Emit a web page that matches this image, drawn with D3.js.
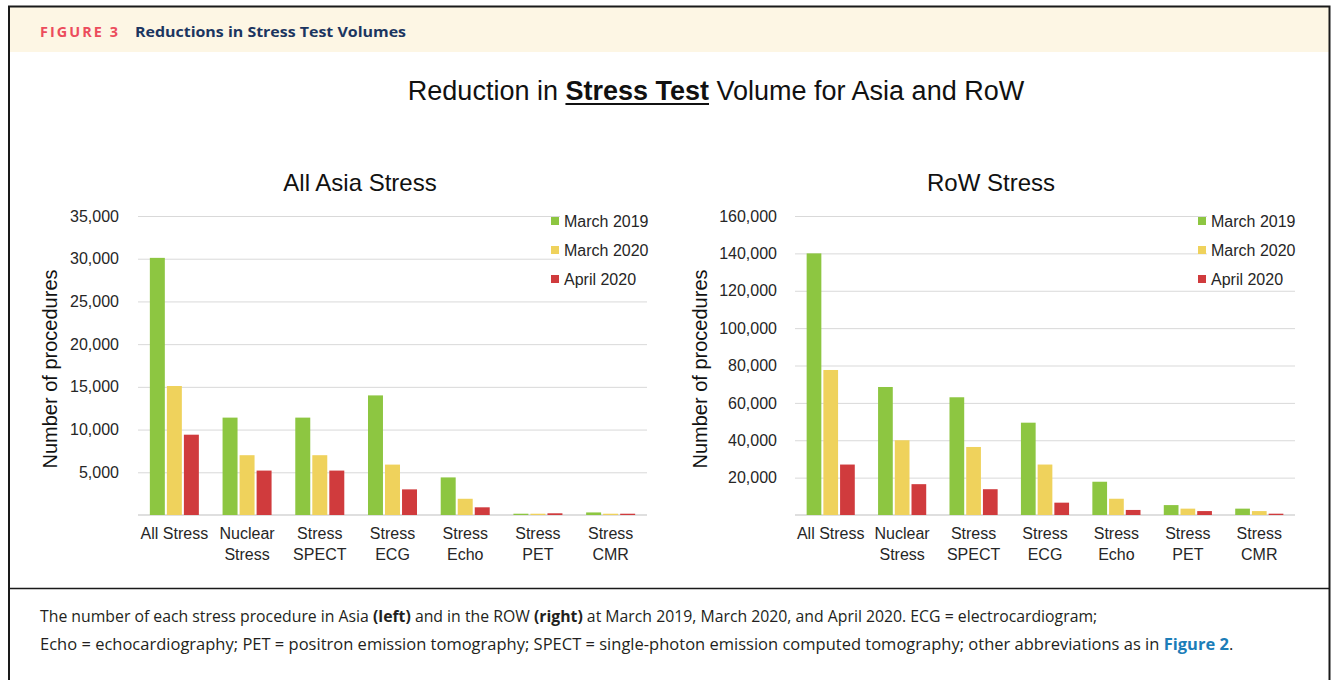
<!DOCTYPE html>
<html>
<head>
<meta charset="utf-8">
<script src="https://cdn.jsdelivr.net/npm/d3@7"></script>
<style>
  body { margin: 0; background: #fff; }
  svg text { font-family: Arial, "Liberation Sans", sans-serif; }
  svg text.caption { font-family: "Open Sans", "Noto Sans", sans-serif; }
</style>
</head>
<body>
<script>
const width = 1336;
const height = 680;

// The data
const categories = ['All Stress', 'Nuclear Stress', 'Stress SPECT', 'Stress ECG', 'Stress Echo', 'Stress PET', 'Stress CMR'];
const categoryLines = [['All Stress'], ['Nuclear', 'Stress'], ['Stress', 'SPECT'], ['Stress', 'ECG'], ['Stress', 'Echo'], ['Stress', 'PET'], ['Stress', 'CMR']];
const seriesNames = ['March 2019', 'March 2020', 'April 2020'];
const seriesColors = ['#8dc641', '#efd25c', '#d03b3d'];

const asiaMar2019 = [30100, 11400, 11400, 14000, 4400, 150, 300];
const asiaMar2020 = [15100, 7000, 7000, 5900, 1900, 150, 150];
const asiaApr2020 = [9400, 5200, 5200, 3000, 900, 200, 150];
const asiaTicks = [5000, 10000, 15000, 20000, 25000, 30000, 35000];

const rowMar2019 = [140000, 68500, 63000, 49400, 17800, 5300, 3400];
const rowMar2020 = [77600, 40000, 36400, 27000, 8700, 3400, 2100];
const rowApr2020 = [27000, 16500, 13800, 6600, 2700, 2100, 700];
const rowTicks = [20000, 40000, 60000, 80000, 100000, 120000, 140000, 160000];

// plot area, shared by both charts
const plotTop = 216;
const plotBottom = 515;

var svg = d3.select('body')
  .append('svg')
  .attr('width', width)
  .attr('height', height);

// The frame and the header band
svg.append('rect')
  .attr('x', 9).attr('y', 7)
  .attr('width', 1320).attr('height', 45)
  .attr('fill', '#fdf6e4');

svg.append('path')
  .attr('d', 'M9,680 V6.5 H1329.5 V680')
  .attr('fill', 'none')
  .attr('stroke', '#1a1a1a')
  .attr('stroke-width', 2);

svg.append('line')
  .attr('x1', 9).attr('x2', 1330)
  .attr('y1', 588.5).attr('y2', 588.5)
  .attr('stroke', '#1a1a1a')
  .attr('stroke-width', 1.5);

svg.append('text')
  .attr('x', 40).attr('y', 37)
  .style('font-family', '"Open Sans", "Noto Sans", sans-serif')
  .style('font-size', '14px')
  .style('font-weight', 'bold')
  .style('letter-spacing', '2px')
  .attr('fill', '#ec4c5c')
  .attr('textLength', 80)
  .attr('lengthAdjust', 'spacingAndGlyphs')
  .text('FIGURE 3');

svg.append('text')
  .attr('x', 135).attr('y', 37)
  .style('font-family', '"Open Sans", "Noto Sans", sans-serif')
  .style('font-size', '15px')
  .style('font-weight', 'bold')
  .attr('fill', '#1b3560')
  .attr('textLength', 271)
  .attr('lengthAdjust', 'spacingAndGlyphs')
  .text('Reductions in Stress Test Volumes');

// Main title with underlined "Stress Test"
var mainTitle = svg.append('text')
  .attr('x', 716).attr('y', 100)
  .style('font-size', '27px')
  .style('text-anchor', 'middle')
  .attr('fill', '#111');
mainTitle.append('tspan').text('Reduction in ');
mainTitle.append('tspan').style('font-weight', 'bold').text('Stress Test');
mainTitle.append('tspan').text(' Volume for Asia and RoW');

var tNode = mainTitle.node();
var uStart = tNode.getStartPositionOfChar(13).x;
var uEnd = tNode.getEndPositionOfChar(23).x;
svg.append('line')
  .attr('x1', uStart).attr('x2', uEnd)
  .attr('y1', 104).attr('y2', 104)
  .attr('stroke', '#111')
  .attr('stroke-width', 2);

/**
Draw one grouped bar chart
cfg: position, scale and values of the chart
return: null
*/
function drawChart(cfg) {
  var g = svg.append('g');

  var x = d3.scaleBand()
    .domain(categories)
    .range([cfg.x0, cfg.x1])
    .paddingInner(0.326)
    .paddingOuter(0.163);

  var xs = d3.scaleBand()
    .domain(seriesNames)
    .range([0, x.bandwidth()])
    .paddingInner(0.12);

  var y = d3.scaleLinear()
    .domain([0, cfg.yMax])
    .range([plotBottom, plotTop]);

  // gridlines and tick labels
  g.append('g')
    .attr('transform', 'translate(' + cfg.x0 + ',0)')
    .call(d3.axisLeft(y)
      .tickValues(cfg.ticks)
      .tickSize(-(cfg.x1 - cfg.x0))
      .tickPadding(cfg.pad)
      .tickFormat(d3.format(',')))
    .attr('font-family', 'Arial, "Liberation Sans", sans-serif')
    .attr('font-size', 16)
    .call(a => a.select('.domain').remove())
    .call(a => a.selectAll('line').attr('stroke', '#d9d9d9'))
    .call(a => a.selectAll('text').attr('fill', '#262626'));

  // baseline
  g.append('line')
    .attr('x1', cfg.x0).attr('x2', cfg.x1)
    .attr('y1', y(0)).attr('y2', y(0))
    .attr('stroke', '#bfbfbf');

  // legend background hides the gridlines
  g.append('rect')
    .attr('x', cfg.legendX + 9).attr('y', 205)
    .attr('width', 96).attr('height', 83)
    .attr('fill', '#fff');

  // bars
  cfg.values.forEach(function(vals, i) {
    g.append('g')
      .attr('fill', seriesColors[i])
      .selectAll('rect')
      .data(vals)
      .join('rect')
      .attr('x', (d, j) => x(categories[j]) + xs(seriesNames[i]))
      .attr('y', d => y(d))
      .attr('width', xs.bandwidth())
      .attr('height', d => y(0) - y(d));
  });

  // category labels
  categoryLines.forEach(function(lines, j) {
    var t = g.append('text')
      .attr('x', x(categories[j]) + x.bandwidth() / 2)
      .attr('y', 539)
      .style('font-size', '16px')
      .style('text-anchor', 'middle')
      .attr('fill', '#262626');
    lines.forEach(function(line, k) {
      t.append('tspan')
        .attr('x', x(categories[j]) + x.bandwidth() / 2)
        .attr('dy', k === 0 ? 0 : 21)
        .text(line);
    });
  });

  // legend
  seriesNames.forEach(function(name, i) {
    var ly = 221 + i * 29;
    g.append('rect')
      .attr('x', cfg.legendX).attr('y', ly - 4)
      .attr('width', 8).attr('height', 8)
      .attr('fill', seriesColors[i]);
    g.append('text')
      .attr('x', cfg.legendX + 13).attr('y', ly)
      .attr('dy', '0.36em')
      .style('font-size', '16px')
      .attr('fill', '#262626')
      .text(name);
  });

  // chart title
  g.append('text')
    .attr('x', cfg.titleX).attr('y', 191)
    .style('font-size', '24px')
    .style('text-anchor', 'middle')
    .attr('fill', '#111')
    .text(cfg.title);

  // y axis title
  g.append('text')
    .attr('transform', 'translate(' + cfg.yTitleX + ',369) rotate(-90)')
    .style('font-size', '20px')
    .style('text-anchor', 'middle')
    .attr('fill', '#111')
    .text('Number of procedures');
}

drawChart({
  x0: 138, x1: 647, yMax: 35000, ticks: asiaTicks, pad: 19,
  values: [asiaMar2019, asiaMar2020, asiaApr2020],
  legendX: 551, titleX: 360, yTitleX: 57, title: 'All Asia Stress'
});

drawChart({
  x0: 795, x1: 1295, yMax: 160000, ticks: rowTicks, pad: 18,
  values: [rowMar2019, rowMar2020, rowApr2020],
  legendX: 1198, titleX: 991, yTitleX: 707, title: 'RoW Stress'
});

/**
Caption line, squeezed sideways to the width of the narrow type in the original
parts: [text, bold, colour]
return: null
*/
function captionLine(parts, y, targetWidth) {
  var g = svg.append('g').attr('fill', '#231f20');
  var t = g.append('text')
    .attr('class', 'caption')
    .attr('x', 0).attr('y', y)
    .style('font-size', '16px');
  parts.forEach(function(p) {
    var s = t.append('tspan').text(p[0]);
    if (p[1]) s.style('font-weight', 'bold');
    if (p[2]) s.attr('fill', p[2]);
  });
  var k = targetWidth / t.node().getComputedTextLength();
  g.attr('transform', 'translate(40,0) scale(' + k + ',1)');
}

captionLine([
  ['The number of each stress procedure in Asia '],
  ['(left)', true],
  [' and in the ROW '],
  ['(right)', true],
  [' at March 2019, March 2020, and April 2020. ECG = electrocardiogram;']
], 622, 1058);

captionLine([
  ['Echo = echocardiography; PET = positron emission tomography; SPECT = single-photon emission computed tomography; other abbreviations as in '],
  ['Figure 2', true, '#1b7db8'],
  ['.']
], 650, 1194);
</script>
</body>
</html>
